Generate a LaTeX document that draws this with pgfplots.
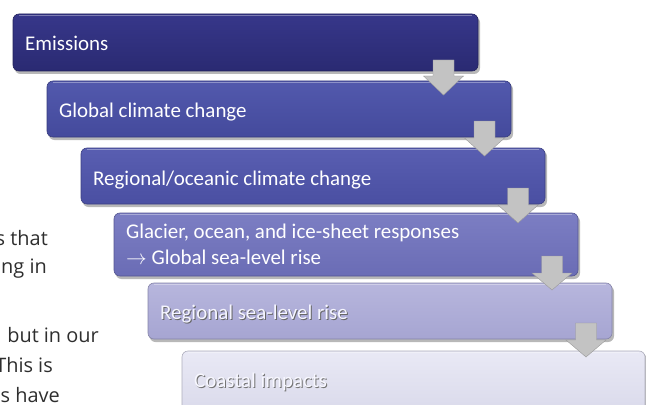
\documentclass[border=0pt]{standalone}
\usepackage{pgfplots}
\pgfplotsset{compat=1.18}
\usepackage{fontspec}
\setmainfont{Open Sans}
\newfontfamily\boxfont{Carlito}

% fill colours of the six stages, from dark to light
\definecolor{sAt}{HTML}{37378A}\definecolor{sAb}{HTML}{2A2A72}
\definecolor{sBt}{HTML}{5259AD}\definecolor{sBb}{HTML}{444A9C}
\definecolor{sCt}{HTML}{595EB1}\definecolor{sCb}{HTML}{4A4FA2}
\definecolor{sDt}{HTML}{7C7EC3}\definecolor{sDb}{HTML}{6A6CB5}
\definecolor{sEt}{HTML}{B7B6DD}\definecolor{sEb}{HTML}{A6A5D2}
\definecolor{sFt}{HTML}{E9E9F5}\definecolor{sFb}{HTML}{DADAEB}
\definecolor{arrowgray}{HTML}{C3C3C3}
\definecolor{bodytext}{HTML}{2E2E2E}

% stage box: #1 left, #2 top, #3 right, #4 bottom, #5 top colour, #6 bottom colour
\newcommand\stagebox[6]{%
  \addplot[draw=none, fill=black, fill opacity=0.28, rounded corners=6bp, forget plot]
    coordinates {(#1+1.5,#2+2.5) (#3+2,#2+2.5) (#3+2,#4+3) (#1+1.5,#4+3)} -- cycle;
  \addplot[draw=#6!80!black, line width=0.6bp, top color=#5, bottom color=#6, rounded corners=6bp, forget plot]
    coordinates {(#1,#2) (#3,#2) (#3,#4) (#1,#4)} -- cycle;
  \addplot[draw=white, draw opacity=0.35, line width=1bp, forget plot]
    coordinates {(#1+6,#2+1.5) (#3-6,#2+1.5)};
}
% down arrow: #1 centre x, #2 top of stem, #3 base of head, #4 tip
\newcommand\steparrow[4]{%
  \addplot[draw=gray!80, line width=0.4bp, fill=arrowgray, forget plot]
    coordinates {(#1-10.5,#2) (#1+10.5,#2) (#1+10.5,#3) (#1+20,#3) (#1,#4) (#1-20,#3) (#1-10.5,#3)} -- cycle;
}

\begin{document}
\begin{tikzpicture}
\begin{axis}[
  scale only axis, width=646bp, height=405bp,
  xmin=0, xmax=646, ymin=0, ymax=405, y dir=reverse,
  hide axis, clip=false]

\stagebox{13}{14}{478}{71}{sAt}{sAb}
\stagebox{47}{81}{511}{137}{sBt}{sBb}
\stagebox{81}{148}{545}{204}{sCt}{sCb}
\stagebox{114}{213}{578}{276}{sDt}{sDb}
\stagebox{148}{283}{612}{339}{sEt}{sEb}
\stagebox{182}{351}{645}{412}{sFt}{sFb}

\steparrow{443.5}{60}{76}{95}
\steparrow{484.5}{121}{138}{156}
\steparrow{518}{188}{205}{223}
\steparrow{552}{256}{273}{290}
\steparrow{586}{323}{340}{357}

\begin{scope}[every node/.style={anchor=base west, inner sep=0pt,
    font=\boxfont\fontsize{21}{24}\selectfont}]
  \node[text=white] at (axis cs:25,51) {Emissions};
  \node[text=white] at (axis cs:59,117) {Global climate change};
  \node[text=white] at (axis cs:93,185) {Regional/oceanic climate change};
  \node[text=white] at (axis cs:126,238) {Glacier, ocean, and ice-sheet responses};
  \node[text=white] at (axis cs:126,264) {$\rightarrow$ Global sea-level rise};
  \node[text=black!60] at (axis cs:161,320) {Regional sea-level rise};
  \node[text=white!96!blue] at (axis cs:160,319) {Regional sea-level rise};
  \node[text=black!55] at (axis cs:195,388) {Coastal impacts};
  \node[text=white!97!blue] at (axis cs:194,387) {Coastal impacts};
\end{scope}

\begin{scope}[every node/.style={anchor=base east, inner sep=0pt,
    text=bodytext, font=\fontsize{20}{24}\selectfont}]
  \node at (axis cs:48,245) {s that};
  \node at (axis cs:47,273) {ng in};
  \node at (axis cs:99,342) {but in our};
  \node at (axis cs:53,372) {This is};
  \node at (axis cs:60,402) {s have};
\end{scope}
\end{axis}
\pgfresetboundingbox
\useasboundingbox (0,0) rectangle (646bp,405bp);
\end{tikzpicture}
\end{document}
